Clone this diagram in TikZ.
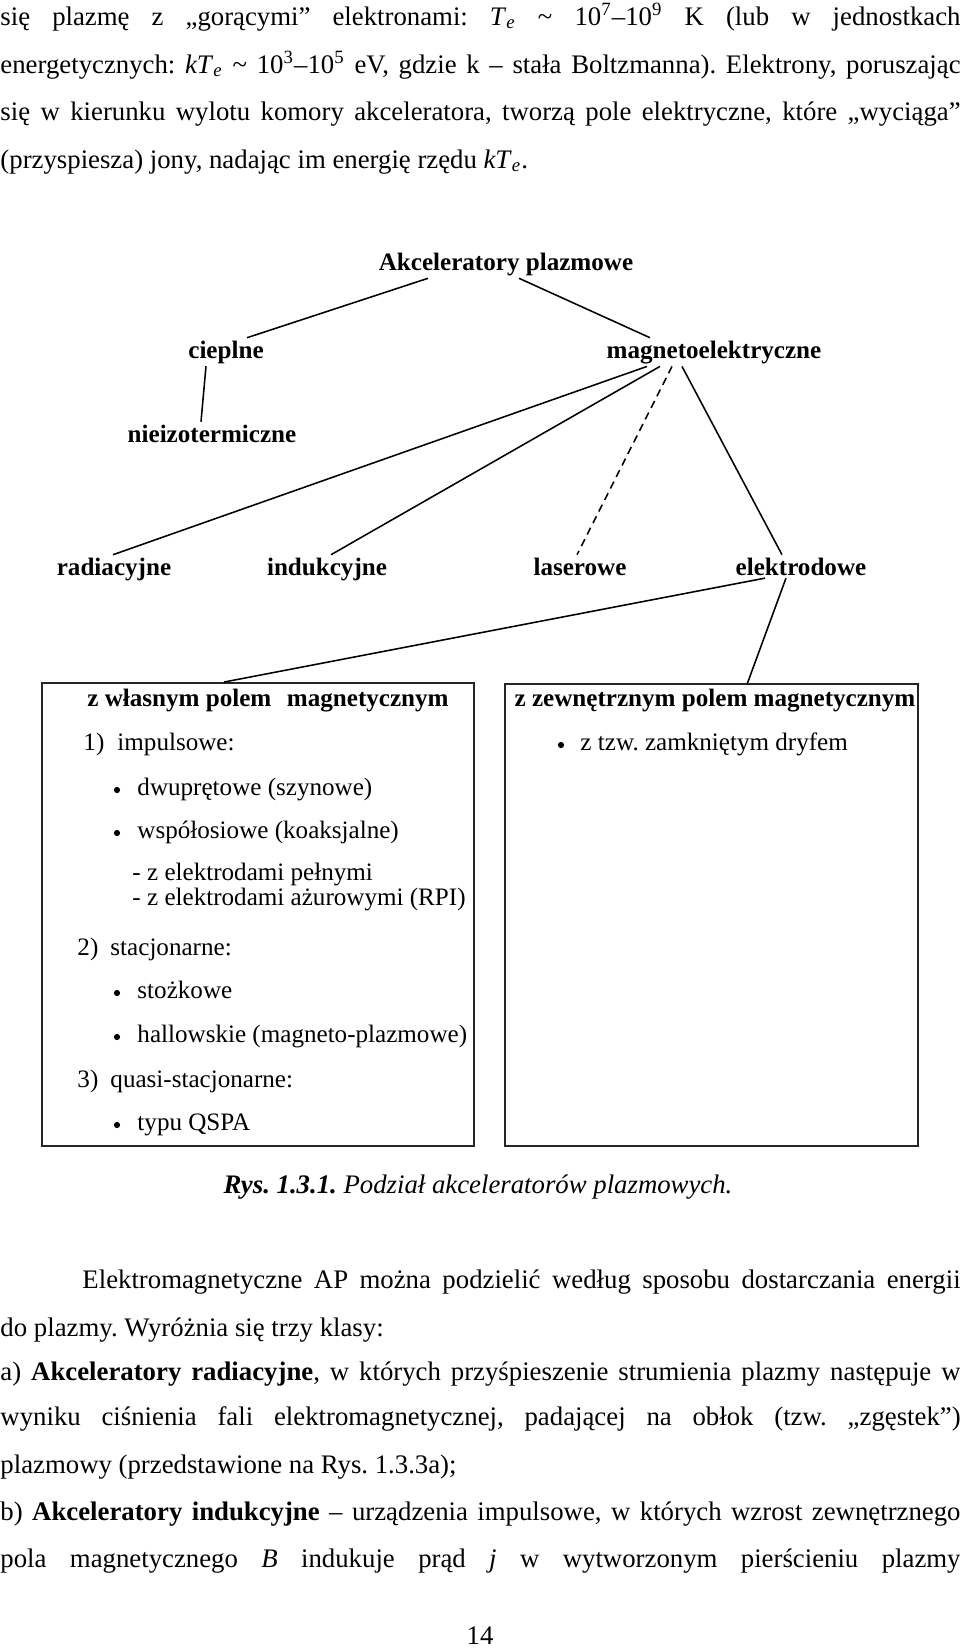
\documentclass[tikz,border=0pt]{standalone}
\usepackage{fontspec}
\setmainfont{Liberation Serif}
\usetikzlibrary{positioning,calc,fit}
\frenchspacing

\begin{document}
\begin{tikzpicture}[
  x=0.4184pt,y=-0.4184pt,
  akapit/.style={anchor=base west,inner sep=0pt,font=\fontsize{11.2}{13}\selectfont},
  etyk/.style={anchor=base,inner sep=1pt,font=\fontsize{10.5}{12}\selectfont\bfseries},
  ramka/.style={draw=black!85,line width=0.8pt,inner sep=0pt},
  nagl/.style={anchor=base,inner sep=0pt,font=\fontsize{10.5}{12}\selectfont\bfseries},
  poz/.style={anchor=base west,inner sep=0pt,font=\fontsize{10.5}{12}\selectfont},
  kr/.style={circle,fill=black,inner sep=0pt,minimum size=2.6pt},
  lin/.style={line width=0.65pt}
]
\def\W{401.7pt}
\def\Te{\textit{T}\textsubscript{\textit{e}}}
\def\kTe{\textit{kT}\textsubscript{\textit{e}}}
\fill[white] (0,0) rectangle (960,1649);
\useasboundingbox (0,0) rectangle (960,1649);
% text above the figure
\node[akapit] (t1) at (0,25) {\makebox[\W][s]{się plazmę z „gorącymi” elektronami: \Te{} \textasciitilde{} 10\textsuperscript{7}--10\textsuperscript{9} K (lub w jednostkach}};
\node[akapit] (t2) at (0,73) {\makebox[\W][s]{energetycznych: \kTe{} \textasciitilde{} 10\textsuperscript{3}--10\textsuperscript{5} eV, gdzie k -- stała Boltzmanna). Elektrony, poruszając}};
\node[akapit] (t3) at (0,120) {\makebox[\W][s]{się w kierunku wylotu komory akceleratora, tworzą pole elektryczne, które „wyciąga”}};
\node[akapit] (t4) at (0,168) {(przyspiesza) jony, nadając im energię rzędu \kTe.};
% tree
\node[etyk] (ap) at (506,270) {Akceleratory plazmowe};
\node[etyk] (ciep) at (226,358) {cieplne};
\node[etyk] (mag) at (714,358) {magnetoelektryczne};
\node[etyk] (niei) at (212,442) {nieizotermiczne};
\node[etyk] (rad) at (114,575) {radiacyjne};
\node[etyk] (ind) at (327,575) {indukcyjne};
\node[etyk] (las) at (580,575) {laserowe};
\node[etyk] (ele) at (801,575) {elektrodowe};
% boxes
\node[ramka,fit={(42,683) (474,1146)}] (lewa) {};
\node[ramka,fit={(505,684) (918,1146)}] (prawa) {};
% connectors
\draw[lin] ($(ap.south)+(-78,0)$) -- ($(ciep.north)+(21,0)$);
\draw[lin] ($(ap.south)+(13,0)$) -- ($(mag.north)+(-64,0)$);
\draw[lin] ($(ciep.south)+(-20,0)$) -- ($(niei.north)+(-11,0)$);
\draw[lin] ($(mag.south)+(-67,0)$) -- ($(rad.north)+(-1,0)$);
\draw[lin] ($(mag.south)+(-54,0)$) -- ($(ind.north)+(4,0)$);
\draw[lin,dash pattern=on 3.2pt off 2.2pt] ($(mag.south)+(-42,0)$) -- ($(las.north)+(-3,0)$);
\draw[lin] ($(mag.south)+(-32,0)$) -- ($(ele.north)+(-19,0)$);
\draw[lin] ($(ele.south)+(-36,0)$) -- ($(lewa.north)+(-34,0)$);
\draw[lin] ($(ele.south)+(-15,0)$) -- ($(prawa.north)+(36,0)$);
% left box
\node[nagl] (lt) at (268,706) {z własnym polem\hspace{6.5pt}magnetycznym};
\node[poz] (l1) at (83,750) {1)};
\node[poz] (l1t) at (117,750) {impulsowe:};
\node[kr] (k1) at (117,790) {};
\node[poz] (l2) at (137,795) {dwuprętowe (szynowe)};
\node[kr] (k2) at (117,833) {};
\node[poz] (l3) at (137,838) {współosiowe (koaksjalne)};
\node[poz] (l4) at (132,880) {- z elektrodami pełnymi};
\node[poz] (l5) at (132,905) {- z elektrodami ażurowymi (RPI)};
\node[poz] (l6) at (77,955) {2)};
\node[poz] (l6t) at (110,955) {stacjonarne:};
\node[kr] (k3) at (117,993) {};
\node[poz] (l7) at (137,998) {stożkowe};
\node[kr] (k4) at (117,1037) {};
\node[poz] (l8) at (137,1042) {hallowskie (magneto-plazmowe)};
\node[poz] (l9) at (77,1087) {3)};
\node[poz] (l9t) at (110,1087) {quasi-stacjonarne:};
\node[kr] (k5) at (117,1125) {};
\node[poz] (l10) at (137,1130) {typu QSPA};
% right box
\node[nagl] (pt) at (715,706) {z zewnętrznym polem magnetycznym};
\node[kr] (k6) at (561,745) {};
\node[poz] (p1) at (580,750) {z tzw. zamkniętym dryfem};
% caption and text below
\node[akapit,anchor=base] (podp) at (478,1193) {\textbf{\textit{Rys. 1.3.1.}} \textit{Podział akceleratorów plazmowych.}};
\node[akapit] (t5) at (82,1288) {\makebox[367.4pt][s]{Elektromagnetyczne AP można podzielić według sposobu dostarczania energii}};
\node[akapit] (t6) at (0,1336) {do plazmy. Wyróżnia się trzy klasy:};
\node[akapit] (t7) at (0,1380) {\makebox[\W][s]{a) \textbf{Akceleratory radiacyjne}, w których przyśpieszenie strumienia plazmy następuje w}};
\node[akapit] (t8) at (0,1425) {\makebox[\W][s]{wyniku ciśnienia fali elektromagnetycznej, padającej na obłok (tzw. „zgęstek”)}};
\node[akapit] (t9) at (0,1473) {plazmowy (przedstawione na Rys. 1.3.3a);};
\node[akapit] (t10) at (0,1520) {\makebox[\W][s]{b) \textbf{Akceleratory indukcyjne} -- urządzenia impulsowe, w których wzrost zewnętrznego}};
\node[akapit] (t11) at (0,1567) {\makebox[\W][s]{pola magnetycznego \textit{B} indukuje prąd \textit{j} w wytworzonym pierścieniu plazmy}};
\node[akapit,anchor=base] (nr) at (480,1644) {14};
\end{tikzpicture}
\end{document}
